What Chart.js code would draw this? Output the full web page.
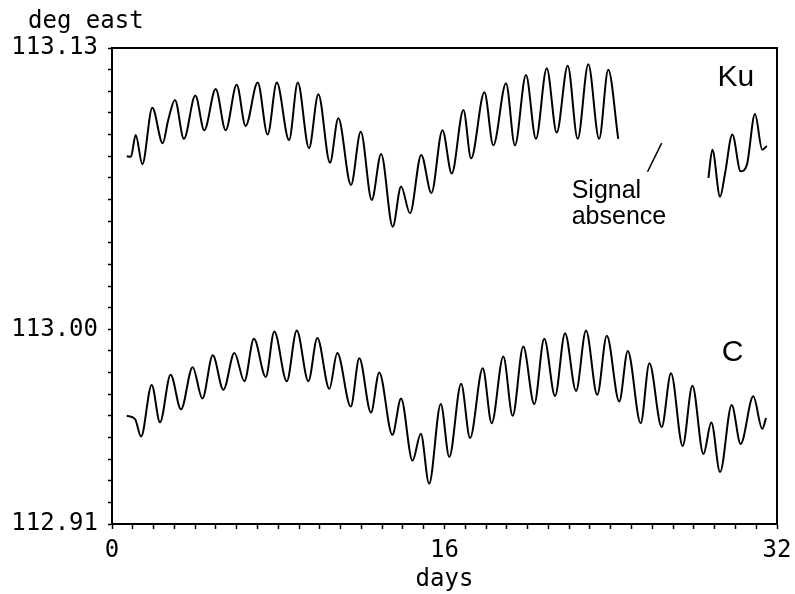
<!DOCTYPE html>
<html>
<head>
<meta charset="utf-8">
<script src="https://cdn.jsdelivr.net/npm/chart.js@4/dist/chart.umd.min.js"></script>
<style>
html,body{margin:0;padding:0;background:#fff;}
#wrap{width:795px;height:594px;position:relative;}
</style>
</head>
<body>
<div id="wrap"><canvas id="c"></canvas></div>
<script>
// ---- data ----
const kuDays = [0.71,0.91,1.14,1.46,1.94,2.44,2.70,3.03,3.46,4.01,4.44,4.99,5.47,6.00,6.43,7.01,7.49,7.93,8.52,8.94,9.48,9.93,10.49,10.89,11.50,11.97,12.50,12.95,13.51,13.91,14.34,14.88,15.37,15.90,16.35,16.91,17.28,17.92,18.35,18.96,19.39,19.92,20.40,20.92,21.40,21.93,22.41,22.92,23.44,23.88,24.36,
  26.5,
  28.70,28.89,29.26,29.50,29.85,30.25,30.55,30.94,31.29,31.51];
const kuValues = [113.080,113.0797,113.0898,113.0763,113.1024,113.086,113.0965,113.106,113.088,113.108,113.092,113.111,113.092,113.113,113.094,113.114,113.090,113.114,113.0875,113.114,113.0837,113.1086,113.077,113.0975,113.0667,113.0913,113.0598,113.081,113.0474,113.066,113.0536,113.0806,113.063,113.092,113.072,113.1014,113.079,113.1095,113.085,113.1137,113.085,113.1175,113.088,113.1206,113.0909,113.1218,113.088,113.1225,113.088,113.120,113.088,
  null,
  113.070,113.083,113.0613,113.072,113.090,113.073,113.076,113.0995,113.083,113.0847];
const cDays = [0.71,1.11,1.40,1.91,2.31,2.82,3.32,3.88,4.35,4.85,5.36,5.89,6.37,6.83,7.40,7.81,8.41,8.89,9.45,9.88,10.46,10.84,11.49,11.90,12.46,12.86,13.49,13.91,14.46,14.86,15.26,15.82,16.23,16.80,17.23,17.84,18.27,18.83,19.28,19.79,20.32,20.80,21.32,21.80,22.33,22.81,23.35,23.81,24.41,24.82,25.44,25.86,26.45,26.90,27.46,27.93,28.46,28.84,29.26,29.82,30.25,30.86,31.29,31.47];
const cValues = [112.960,112.9585,112.9504,112.9743,112.957,112.979,112.963,112.9825,112.968,112.988,112.972,112.989,112.976,112.9956,112.978,112.999,112.976,112.9994,112.976,112.996,112.9725,112.989,112.9643,112.9866,112.9615,112.980,112.9512,112.968,112.9393,112.9517,112.9286,112.9655,112.941,112.9748,112.9497,112.982,112.9566,112.9874,112.960,112.992,112.9654,112.9956,112.9692,112.9982,112.9715,112.9994,112.9697,112.997,112.9666,112.990,112.9566,112.9843,112.9548,112.9797,112.9461,112.9739,112.9424,112.9569,112.934,112.965,112.947,112.969,112.954,112.959];
const yLabelTicks = [112.91, 113.00, 113.13];
const xLabelTicks = [0, 16, 32];
const yAxisTitle = "deg east";
const xAxisTitle = "days";
const seriesNames = ["Ku", "C"];
const noteLines = ["Signal", "absence"];

const xMin = 0, xMax = 32, yMin = 112.91, yMax = 113.13;

function pts(xs, ys){ return xs.map((x,i)=>({x:x, y:ys[i]})); }

const monoFont = "'DejaVu Sans Mono', monospace";
const sansFont = "'Liberation Sans', Arial, sans-serif";

const decorPlugin = {
  id: 'decor',
  afterDraw(chart){
    const ctx = chart.ctx, a = chart.chartArea;
    const xs = chart.scales.x, ys = chart.scales.y;
    ctx.save();
    // top and right frame
    ctx.strokeStyle = '#000'; ctx.lineWidth = 2;
    ctx.beginPath();
    ctx.moveTo(a.left, a.top); ctx.lineTo(a.right, a.top); ctx.lineTo(a.right, a.bottom);
    ctx.stroke();
    // y axis unit text
    ctx.fillStyle = '#000';
    ctx.font = "24px " + monoFont;
    ctx.textBaseline = 'alphabetic'; ctx.textAlign = 'left';
    ctx.fillText(yAxisTitle, 28, 28);
    // series labels
    ctx.font = "30px " + sansFont;
    ctx.fillText(seriesNames[0], xs.getPixelForValue(29.14), ys.getPixelForValue(113.1125));
    ctx.fillText(seriesNames[1], xs.getPixelForValue(29.34), ys.getPixelForValue(112.9855));
    // signal absence note
    ctx.font = "25px " + sansFont;
    ctx.fillText(noteLines[0], xs.getPixelForValue(22.12), ys.getPixelForValue(113.0605));
    ctx.fillText(noteLines[1], xs.getPixelForValue(22.12), ys.getPixelForValue(113.0488));
    ctx.lineWidth = 1.5;
    ctx.beginPath();
    ctx.moveTo(xs.getPixelForValue(26.45), ys.getPixelForValue(113.086));
    ctx.lineTo(xs.getPixelForValue(25.77), ys.getPixelForValue(113.0728));
    ctx.stroke();
    ctx.restore();
  }
};

new Chart(document.getElementById('c'), {
  type: 'line',
  data: {
    datasets: [
      { label: seriesNames[0], data: pts(kuDays, kuValues), borderColor: '#000', borderWidth: 2, pointRadius: 0, spanGaps: false, cubicInterpolationMode: 'monotone', fill: false },
      { label: seriesNames[1], data: pts(cDays, cValues), borderColor: '#000', borderWidth: 2, pointRadius: 0, cubicInterpolationMode: 'monotone', fill: false }
    ]
  },
  options: {
    responsive: true,
    maintainAspectRatio: false,
    animation: false,
    layout: { padding: { top: 48, right: 18, left: 0, bottom: 0 } },
    plugins: { legend: { display: false }, tooltip: { enabled: false }, title: { display: false } },
    scales: {
      x: {
        type: 'linear', min: xMin, max: xMax,
        afterBuildTicks(axis){ const t=[]; for(let v=xMin; v<=xMax; v++) t.push({value:v}); axis.ticks = t; },
        afterFit(axis){ axis.height = 70; axis.paddingLeft = 0; axis.paddingRight = 0; },
        ticks: {
          autoSkip: false, maxRotation: 0, padding: 7, color: '#000',
          font: { family: monoFont, size: 24 },
          callback(v){ return xLabelTicks.includes(v) ? String(v) : ''; }
        },
        grid: { drawOnChartArea: false, drawTicks: true, tickLength: 5, tickColor: '#000', tickWidth: 1.5 },
        border: { display: true, color: '#000', width: 2 },
        title: { display: true, text: xAxisTitle, color: '#000', font: { family: monoFont, size: 24 }, padding: { top: 0, bottom: 0 } }
      },
      y: {
        type: 'linear', min: yMin, max: yMax,
        afterBuildTicks(axis){ const t=[]; for(let i=0;i<=22;i++) t.push({value: Math.round((yMin + i*0.01)*100)/100}); axis.ticks = t; },
        afterFit(axis){ axis.width = 112; axis.paddingTop = 0; axis.paddingBottom = 0; },
        ticks: {
          autoSkip: false, padding: 10, color: '#000',
          font: { family: monoFont, size: 24 },
          callback(v){ return yLabelTicks.some(t=>Math.abs(t-v)<1e-6) ? v.toFixed(2) : ''; }
        },
        grid: { drawOnChartArea: false, drawTicks: true, tickLength: 4, tickColor: '#000', tickWidth: 1.5 },
        border: { display: true, color: '#000', width: 2 }
      }
    }
  },
  plugins: [decorPlugin]
});
</script>
</body>
</html>
